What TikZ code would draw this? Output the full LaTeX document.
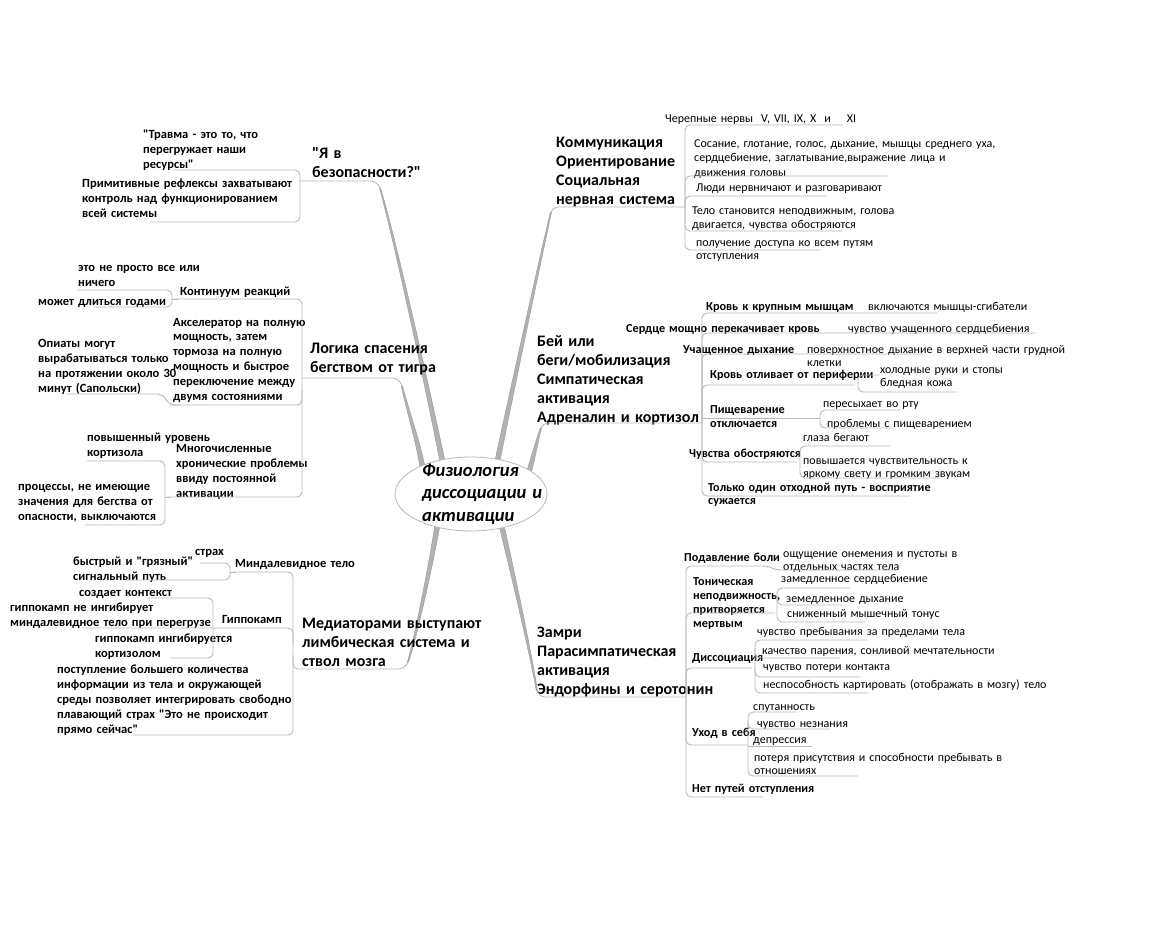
\documentclass[tikz,border=0pt]{standalone}
\usepackage{fontspec}
\setmainfont{Carlito}[Ligatures=TeXOff]
\usetikzlibrary{calc,shapes.geometric}
\tikzset{
  txt/.style={anchor=base west, inner sep=0pt, align=left, text width=12cm},
  lb/.style={txt, font=\fontsize{12.5}{15}\selectfont\bfseries},
  rb/.style={txt, font=\fontsize{12.2}{14}\selectfont\bfseries},
  rs/.style={txt, font=\fontsize{12}{14}\selectfont},
  mb/.style={txt, font=\fontsize{16}{19}\selectfont\bfseries},
  ul/.style={draw=gray!55, line width=0.9pt, rounded corners=5pt},
  trunkc/.style={fill=gray!60, draw=gray!80, line width=0.4pt},
}
\newcommand\mytrunk[4]{%
  \path[trunkc] ($(#1)+(-2.6,0)$) .. controls ($(#2)+(-2,0)$) and ($(#3)+(-1.2,0)$) .. ($(#4)+(-0.6,0)$)
   -- ($(#4)+(0.6,0)$) .. controls ($(#3)+(1.2,0)$) and ($(#2)+(2,0)$) .. ($(#1)+(2.6,0)$) -- cycle;}
\begin{document}
\begin{tikzpicture}[x=1pt,y=-1pt]
\path[use as bounding box, fill=white] (0,0) rectangle (1158,934);

% trunk end coordinates
\coordinate (ya-s) at (443,464);
\coordinate (ya-e) at (380,188);
\coordinate (lg-s) at (423,470);
\coordinate (lg-e) at (402,386);
\coordinate (md-s) at (438,522);
\coordinate (md-e) at (408,662);
\coordinate (cm-s) at (497,463);
\coordinate (cm-e) at (551,212);
\coordinate (fg-s) at (528,475);
\coordinate (fg-e) at (541,428);
\coordinate (fz-s) at (501,523);
\coordinate (fz-e) at (537,691);

\mytrunk{ya-s}{428,390}{395,240}{ya-e}
\mytrunk{lg-s}{418,440}{406,405}{lg-e}
\mytrunk{md-s}{430,570}{415,640}{md-e}
\mytrunk{cm-s}{510,400}{540,260}{cm-e}
\mytrunk{fg-s}{534,455}{537,440}{fg-e}
\mytrunk{fz-s}{512,570}{530,650}{fz-e}

% central node
\node[ellipse, draw=gray!55, fill=white, line width=0.8pt, minimum width=152pt, minimum height=74pt, inner sep=0pt] (root) at (471,494) {};
\node[txt, font=\fontsize{18.5}{22.5}\selectfont\bfseries\itshape] (title) at (422,476) {Физиология\\диссоциации и\\активации};

% ---------- left group 1
\node[mb] (ya) at (312,158) {"Я в\\безопасности?"};
\node[lb] (trauma) at (143,138) {"Травма - это то, что\\перегружает наши\\ресурсы"};
\node[lb] (prim) at (82,187) {Примитивные рефлексы захватывают\\контроль над функционированием\\всей системы};
\draw[ul] (173,170) -- (300,170) -- (300,222) -- (150,222);
\draw[ul] (300,181) -- (376,181) -- (ya-e);

% ---------- left group 2
\node[mb] (logic) at (310,353) {Логика спасения\\бегством от тигра};
\node[lb] (cont) at (180,295) {Континуум реакций};
\node[lb] (allnot) at (78,271) {это не просто все или\\ничего};
\node[lb] (years) at (38,305) {может длиться годами};
\node[lb, font=\fontsize{12.5}{14.8}\selectfont\bfseries] (accel) at (173,326) {Акселератор на полную\\мощность, затем\\тормоза на полную\\мощность и быстрое\\переключение между\\двумя состояниями};
\node[lb] (opi) at (38,347) {Опиаты могут\\вырабатываться только\\на протяжении около 30\\минут (Сапольски)};
\node[lb] (many) at (176,452) {Многочисленные\\хронические проблемы\\ввиду постоянной\\активации};
\node[lb] (cort) at (87,441) {повышенный уровень\\кортизола};
\node[lb] (proc) at (18,490) {процессы, не имеющие\\значения для бегства от\\опасности, выключаются};
\draw[ul] (175,299) -- (302,299) -- (302,497) -- (167,497);
\draw[ul] (302,390) -- (302,405) -- (170,405);
\draw[ul] (302,378) -- (398,378) -- (lg-e);
\draw[ul] (77,290) -- (172,290) -- (172,307) -- (95,307);
\draw[ul] (172,299) -- (178,299);
\draw[ul] (67,394) -- (162,394) -- (170,405) -- (180,405);
\draw[ul] (87,461) -- (165,461) -- (165,525) -- (85,525);
\draw[ul] (165,497) -- (170,497);

% ---------- left group 3
\node[mb] (med) at (302,628) {Медиаторами выступают\\лимбическая система и\\ствол мозга};
\node[lb] (amyg) at (235,567) {Миндалевидное тело};
\node[lb] (fear) at (195,555) {страх};
\node[lb] (quick) at (73,565) {быстрый и "грязный"\\сигнальный путь};
\node[lb] (hipp) at (222,623) {Гиппокамп};
\node[lb] (ctx) at (79,596) {создает контекст};
\node[lb] (hnot) at (10,611) {гиппокамп не ингибирует\\миндалевидное тело при перегрузе};
\node[lb] (hinh) at (95,642) {гиппокамп ингибируется\\кортизолом};
\node[lb] (more) at (57,673) {поступление большего количества\\информации из тела и окружающей\\среды позволяет интегрировать свободно\\плавающий страх "Это не происходит\\прямо сейчас"};
\draw[ul] (233,572) -- (293,572) -- (293,735) -- (133,735);
\draw[ul] (82,628) -- (293,628) -- (293,645);
\draw[ul] (293,655) -- (293,669) -- (404,669) -- (md-e);
\draw[ul] (200,563) -- (230,563) -- (230,580) -- (125,580);
\draw[ul] (230,572) -- (236,572);
\draw[ul] (147,598) -- (213,598) -- (213,658) -- (170,658);

% ---------- right group 1
\node[mb] (comm) at (556,147) {Коммуникация\\Ориентирование\\Социальная\\нервная система};
\node[rs] (cran) at (665,122) {Черепные нервы\ \ V, VII, IX, X\ \ и\ \ \ \ XI};
\node[rs, font=\fontsize{12}{14.5}\selectfont] (suck) at (694,147) {Сосание, глотание, голос, дыхание, мышцы среднего уха,\\сердцебиение, заглатывание,выражение лица и\\движения головы};
\node[rs] (ppl) at (696,191) {Люди нервничают и разговаривают};
\node[rs] (body) at (692,214) {Тело становится неподвижным, голова\\двигается, чувства обостряются};
\node[rs, font=\fontsize{12}{13}\selectfont] (acc) at (696,246) {получение доступа ко всем путям\\отступления};
\draw[ul] (cm-e) -- (553,207) -- (685,207);
\foreach \cy/\ce in {125/843,176/887,196/827,231/842,250/820}
  \draw[ul] (685,207) -- (685,\cy) -- (\ce,\cy);

% ---------- right group 2
\node[mb] (fight) at (537,346) {Бей или\\беги/мобилизация\\Симпатическая\\активация\\Адреналин и кортизол};
\node[rb] (blood) at (706,310) {Кровь к крупным мышцам};
\node[rs] (flex) at (868,310) {включаются мышцы-сгибатели};
\node[rb] (heart) at (626,332) {Сердце мощно перекачивает кровь};
\node[rs] (hfeel) at (848,332) {чувство учащенного сердцебиения};
\node[rb] (breath) at (683,353) {Учащенное дыхание};
\node[rs, font=\fontsize{12}{13}\selectfont] (shallow) at (807,353) {поверхностное дыхание в верхней части грудной\\клетки};
\node[rb] (periph) at (710,378) {Кровь отливает от периферии};
\node[rs] (cold) at (880,373) {холодные руки и стопы};
\node[rs] (pale) at (880,386) {бледная кожа};
\node[rb] (dig) at (710,413) {Пищеварение\\отключается};
\node[rs] (dry) at (823,407) {пересыхает во рту};
\node[rs] (digp) at (827,427) {проблемы с пищеварением};
\node[rb] (sens) at (689,457) {Чувства обостряются};
\node[rs] (eyes) at (803,441) {глаза бегают};
\node[rs, font=\fontsize{12}{13.5}\selectfont] (light) at (803,464) {повышается чувствительность к\\яркому свету и громким звукам};
\node[rb, font=\fontsize{12.2}{13}\selectfont\bfseries] (one) at (708,491) {Только один отходной путь - восприятие\\сужается};
\draw[ul] (fg-e) -- (543,423) -- (702,423);
\foreach \cy/\ce in {313/937,333/1035,354/923,385/855,462/797,496/910}
  \draw[ul] (702,423) -- (702,\cy) -- (\ce,\cy);
\draw[ul] (702,418) -- (817,418);
\draw[ul] (880,375) -- (858,375) -- (858,392) -- (957,392);
\draw[ul] (900,410) -- (820,410) -- (820,428) -- (892,428);
\draw[ul] (817,418) -- (820,418);
\draw[ul] (890,446) -- (800,446) -- (800,478) -- (940,478);

% ---------- right group 3
\node[mb] (freeze) at (537,637) {Замри\\Парасимпатическая\\активация\\Эндорфины и серотонин};
\node[rb] (pain) at (684,561) {Подавление боли};
\node[rs, font=\fontsize{12}{13.5}\selectfont] (numb) at (783,557) {ощущение онемения и пустоты в\\отдельных частях тела};
\node[rb] (tonic) at (693,585) {Тоническая\\неподвижность,\\притворяется\\мертвым};
\node[rs] (slowh) at (781,582) {замедленное сердцебиение};
\node[rs] (slowb) at (786,602) {земедленное дыхание};
\node[rs] (tone) at (787,617) {сниженный мышечный тонус};
\node[rb] (diss) at (692,661) {Диссоциация};
\node[rs] (out) at (757,635) {чувство пребывания за пределами тела};
\node[rs] (float) at (762,654) {качество парения, сонливой мечтательности};
\node[rs] (lost) at (763,670) {чувство потери контакта};
\node[rs] (map) at (763,688) {неспособность картировать (отображать в мозгу) тело};
\node[rb] (withd) at (692,736) {Уход в себя};
\node[rs] (conf) at (753,710) {спутанность};
\node[rs] (know) at (757,727) {чувство незнания};
\node[rs] (dep) at (753,743) {депрессия};
\node[rs, font=\fontsize{12}{13.5}\selectfont] (pres) at (754,761) {потеря присутствия и способности пребывать в\\отношениях};
\node[rb] (noesc) at (692,792) {Нет путей отступления};
\draw[ul] (fz-e) -- (540,697) -- (686,697);
\draw[ul] (686,697) -- (686,566) -- (768,566) -- (776,570) -- (897,570);
\foreach \cy/\ce in {613/775,668/752,745/747,797/763}
  \draw[ul] (686,697) -- (686,\cy) -- (\ce,\cy);
\draw[ul] (850,588) -- (777,588) -- (777,622) -- (865,622);
\draw[ul] (777,595) -- (777,605) -- (842,605);
\draw[ul] (867,640) -- (755,640) -- (755,693) -- (868,693);
\draw[ul] (755,648) -- (755,658) -- (840,658);
\draw[ul] (755,668) -- (755,677) -- (860,677);
\draw[ul] (797,712) -- (748,712) -- (748,776) -- (858,776);
\draw[ul] (748,720) -- (748,729) -- (830,729);
\draw[ul] (748,746) -- (812,746);
\end{tikzpicture}
\end{document}
